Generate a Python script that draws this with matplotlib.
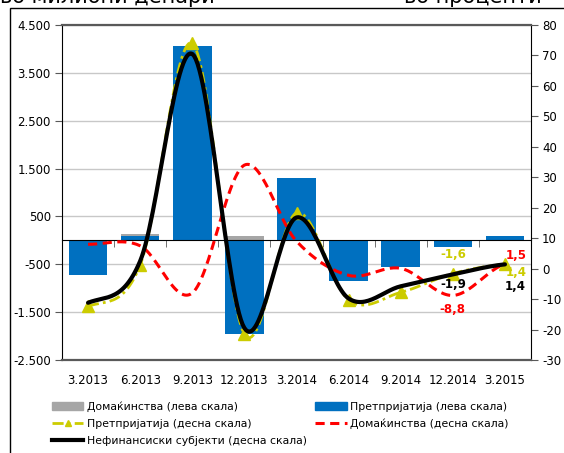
import numpy as np
import matplotlib
matplotlib.use("Agg")
import matplotlib.pyplot as plt
from matplotlib.lines import Line2D
from matplotlib.patches import Patch, Rectangle
from matplotlib.ticker import FuncFormatter

plt.rcParams['font.family'] = ['DejaVu Sans']
plt.rcParams['axes.unicode_minus'] = False

# ── Data ──────────────────────────────────────────────────────────────────────
quarters = ["3.2013", "6.2013", "9.2013", "12.2013", "3.2014",
            "6.2014", "9.2014", "12.2014", "3.2015"]

households_lhs  = [-50, 130, 60, 95, 40, -30, -20, -10, 30]          # милиони денари
enterprises_lhs = [-720, 95, 4060, -1960, 1310, -842, -550, -145, 98]

enterprises_rhs = [-12.4, 1.2, 74.0, -21.5, 18.3, -10.3, -7.8, -1.6, 1.4]   # во %
households_rhs  = [8.0, 7.5, -8.0, 34.0, 9.0, -2.2, 0.1, -8.8, 1.5]
nonfin_rhs      = [-11.2, 2.5, 70.5, -19.5, 16.8, -9.8, -5.8, -1.9, 1.4]

# ── Helpers ───────────────────────────────────────────────────────────────────
def smooth(y, n=30):
    """Excel-style smoothed line (Catmull-Rom as cubic Bezier)."""
    y = np.asarray(y, float)
    x = np.arange(len(y), dtype=float)
    yp = np.concatenate([[y[0]], y, [y[-1]]])
    xs, ys = [], []
    t = np.linspace(0, 1, n)
    for i in range(len(y) - 1):
        p0, p3 = y[i], y[i + 1]
        c1 = p0 + (yp[i + 2] - yp[i]) / 6
        c2 = p3 - (yp[i + 3] - yp[i + 1]) / 6
        by = (1 - t) ** 3 * p0 + 3 * (1 - t) ** 2 * t * c1 + 3 * (1 - t) * t ** 2 * c2 + t ** 3 * p3
        xs.append(x[i] + t)
        ys.append(by)
    return np.concatenate(xs), np.concatenate(ys)


YELLOW = "#cccc00"
RED = "#ff0000"
BLUE = "#0070c0"
GRAY = "#a6a6a6"
SPINE = "#595959"

# ── Figure ────────────────────────────────────────────────────────────────────
fig = plt.figure(figsize=(5.64, 4.53), dpi=100)
ax = fig.add_axes([62 / 564, 93 / 453, 469 / 564, 335 / 453])
ax2 = ax.twinx()

xpos = np.arange(len(quarters))

# bars (left scale)
ax.bar(xpos, households_lhs, width=0.74, color=GRAY, zorder=2)
ax.bar(xpos, enterprises_lhs, width=0.74, color=BLUE, zorder=3)

ax.set_xlim(-0.5, len(quarters) - 0.5)
ax.set_ylim(-2500, 4500)
ax.set_yticks(np.arange(-2500, 4501, 1000))
ax.yaxis.set_major_formatter(FuncFormatter(lambda v, p: f"{v:,.0f}".replace(",", ".")))
ax.set_axisbelow(True)
ax.yaxis.grid(True, color="#c8c8c8", lw=1)
ax.tick_params(axis="y", length=5, color=SPINE, labelsize=8.5, pad=3)

# category axis crossing at zero
ax.spines["bottom"].set_position(("data", 0))
ax.spines["bottom"].set_color("black")
ax.spines["bottom"].set_zorder(4)
ax.set_xticks(xpos)
ax.set_xticks(xpos[:-1] + 0.5, minor=True)
ax.tick_params(axis="x", which="major", length=0, labelbottom=False)
ax.tick_params(axis="x", which="minor", length=5, direction="out", color=SPINE)
ax.spines["left"].set_color("black")
ax.spines["top"].set_visible(False)
ax.spines["right"].set_visible(False)

sec = ax.secondary_xaxis(0.0)
sec.set_xticks(xpos, quarters)
sec.tick_params(length=0, pad=10, labelsize=8.5)
sec.spines["bottom"].set_visible(False)

# lines (right scale)
xs, ys = smooth(enterprises_rhs)
ax2.plot(xs, ys, color=YELLOW, lw=2, linestyle=(0, (4, 1.5, 1, 1.5)), zorder=3)
ax2.plot(xpos, enterprises_rhs, linestyle="none", marker="^", ms=8,
         color=YELLOW, zorder=3)
xs, ys = smooth(households_rhs)
ax2.plot(xs, ys, color=RED, lw=2.2, linestyle=(0, (3, 1.8)), zorder=4)
xs, ys = smooth(nonfin_rhs)
ax2.plot(xs, ys, color="black", lw=3, zorder=5, solid_capstyle="round")

ax2.set_ylim(-30, 80)
ax2.set_yticks(np.arange(-30, 81, 10))
ax2.tick_params(axis="y", length=5, color=SPINE, labelsize=8.5, pad=3)
ax2.spines["right"].set_color("black")
ax2.spines["left"].set_visible(False)
for s in ("top", "bottom"):
    ax2.spines[s].set_color(SPINE)
    ax2.spines[s].set_linewidth(1.6)

# data labels on the last two quarters
lab = dict(textcoords="offset pixels", ha="center", va="center",
           fontsize=8.5, fontweight="bold")
i = 7
ax2.annotate(f"{enterprises_rhs[i]:.1f}".replace(".", ","), (xpos[i], enterprises_rhs[i]),
             xytext=(0, 19), color=YELLOW, **lab)
ax2.annotate(f"{nonfin_rhs[i]:.1f}".replace(".", ","), (xpos[i], nonfin_rhs[i]),
             xytext=(0, -10), color="black", **lab)
ax2.annotate(f"{households_rhs[i]:.1f}".replace(".", ","), (xpos[i], households_rhs[i]),
             xytext=(0, -14), color=RED, **lab)
i = 8
ax2.annotate(f"{households_rhs[i]:.1f}".replace(".", ","), (xpos[i], households_rhs[i]),
             xytext=(11, 9), color=RED, **lab)
ax2.annotate(f"{enterprises_rhs[i]:.1f}".replace(".", ","), (xpos[i], enterprises_rhs[i]),
             xytext=(11, -8), color=YELLOW, **lab)
ax2.annotate(f"{nonfin_rhs[i]:.1f}".replace(".", ","), (xpos[i], nonfin_rhs[i]),
             xytext=(10, -22), color="black", **lab)

# unit captions (cut off at the top, as in the source)
fig.text(0.0, 1 - 3 / 453, "во милиони денари", fontsize=15, va="baseline", ha="left")
fig.text(542 / 564, 1 - 3 / 453, "во проценти", fontsize=15, va="baseline", ha="right")

# outer frame
fig.add_artist(Rectangle((10 / 564, -0.1), 1.2, 1.1 - 8 / 453,
                         transform=fig.transFigure, fill=False, lw=1,
                         edgecolor="black", clip_on=False))

# legend
handles = [
    Patch(color=GRAY),
    Line2D([], [], color=YELLOW, lw=2, linestyle=(0, (4, 1.5, 1, 1.5)),
           marker="^", ms=5, markevery=[1]),
    Line2D([], [], color="black", lw=3),
    Patch(color=BLUE),
    Line2D([], [], color=RED, lw=2.2, linestyle=(0, (3, 1.8))),
]
labels = [
    "Домаќинства (лева скала)",
    "Претпријатија (десна скала)",
    "Нефинансиски субјекти (десна скала)",
    "Претпријатија (лева скала)",
    "Домаќинства (десна скала)",
]
fig.legend(handles, labels, ncol=2, loc="upper left",
           bbox_to_anchor=(52 / 564, 1 - 401 / 453), frameon=False,
           fontsize=7.8, handlelength=2.9, handletextpad=0.3,
           columnspacing=0.8, labelspacing=0.65, borderpad=0, borderaxespad=0)

fig.savefig("out.png", dpi=100)
